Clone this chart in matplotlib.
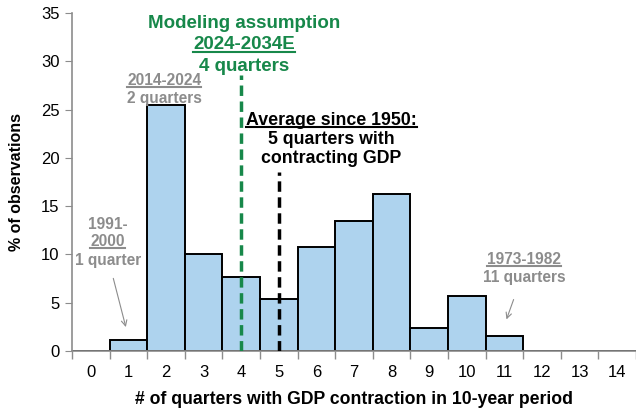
import matplotlib.pyplot as plt
from matplotlib.lines import Line2D
import numpy as np

plt.rcParams['font.family'] = ['Liberation Sans', 'DejaVu Sans']

# data
quarters = list(range(0, 15))
pct_obs = [0, 1.14, 25.5, 10.0, 7.66, 5.4, 10.8, 13.5, 16.25, 2.35, 5.73, 1.52, 0, 0, 0]
model_q = 4
model_top = 28.6
avg_q = 5
avg_top = 18.5

green = '#17884a'
grey = '#8c8c8c'
bar_col = '#aed3ee'

fig = plt.figure(figsize=(6.36, 4.12), dpi=100)
ax = fig.add_axes([72 / 636, 61 / 412, 564 / 636, 338 / 412])

ax.bar(quarters, pct_obs, width=1.0, color=bar_col, edgecolor='black', linewidth=1.4, zorder=2)

ax.plot([model_q, model_q], [0, model_top], color=green, lw=2.5, ls=(0, (3, 1.6)), zorder=3)
ax.plot([avg_q, avg_q], [0, avg_top], color='black', lw=2.5, ls=(0, (3, 1.6)), zorder=3)

ax.set_xlim(-0.5, 14.42)
ax.set_ylim(0, 35)
ax.set_yticks(range(0, 36, 5))
ax.set_xticks(quarters)
ax.set_xticks(np.arange(-0.5, 15, 1), minor=True)
ax.tick_params(axis='x', which='major', length=0, labelsize=12, pad=10)
ax.tick_params(axis='x', which='minor', length=6, color=grey, width=1)
ax.tick_params(axis='y', length=5, color=grey, labelsize=12, pad=4)
for s in ['top', 'right']:
    ax.spines[s].set_visible(False)
for s in ['left', 'bottom']:
    ax.spines[s].set_color(grey)
    ax.spines[s].set_linewidth(1.2)

ax.set_xlabel('# of quarters with GDP contraction in 10-year period', fontsize=12.7,
              fontweight='bold', labelpad=8)
ax.set_ylabel('% of observations', fontsize=11.5, fontweight='bold', labelpad=12)

underlined = []


def label(x, y, s, color, size, under=False):
    t = ax.text(x, y, s, color=color, fontsize=size, fontweight='bold',
                ha='center', va='center', zorder=5)
    if under:
        underlined.append((t, color, size))
    return t


# modeling assumption
label(4.07, 33.9, 'Modeling assumption', green, 13.5)
label(4.07, 31.7, '2024-2034E', green, 13.5, under=True)
label(4.07, 29.5, '4 quarters', green, 13.5)

# average
label(6.4, 23.9, 'Average since 1950:', 'black', 12.8, under=True)
label(6.4, 21.9, '5 quarters with', 'black', 12.8)
label(6.4, 19.9, 'contracting GDP', 'black', 12.8)

# grey callouts
label(1.95, 28.0, '2014-2024', grey, 11.2, under=True)
label(1.95, 26.1, '2 quarters', grey, 11.2)

label(0.45, 13.1, '1991-', grey, 11.2)
label(0.45, 11.3, '2000', grey, 11.2, under=True)
label(0.45, 9.4, '1 quarter', grey, 11.2)

label(11.53, 9.5, '1973-1982', grey, 11.2, under=True)
label(11.53, 7.6, '11 quarters', grey, 11.2)

ax.annotate('', xy=(0.95, 2.2), xytext=(0.58, 7.8),
            arrowprops=dict(arrowstyle='->', color=grey, lw=0.8))
ax.annotate('', xy=(11.03, 3.0), xytext=(11.27, 5.6),
            arrowprops=dict(arrowstyle='->', color=grey, lw=0.8))

# underline the marked texts, just under the baseline
fig.canvas.draw()
r = fig.canvas.get_renderer()
for t, c, size in underlined:
    bb = t.get_window_extent(renderer=r)
    em = size * 100 / 72
    yy = bb.y0 + 0.08 * em
    fig.add_artist(Line2D([bb.x0 / 636, bb.x1 / 636], [yy / 412, yy / 412],
                          color=c, lw=1.5, transform=fig.transFigure))

fig.savefig('out.png', dpi=100)
